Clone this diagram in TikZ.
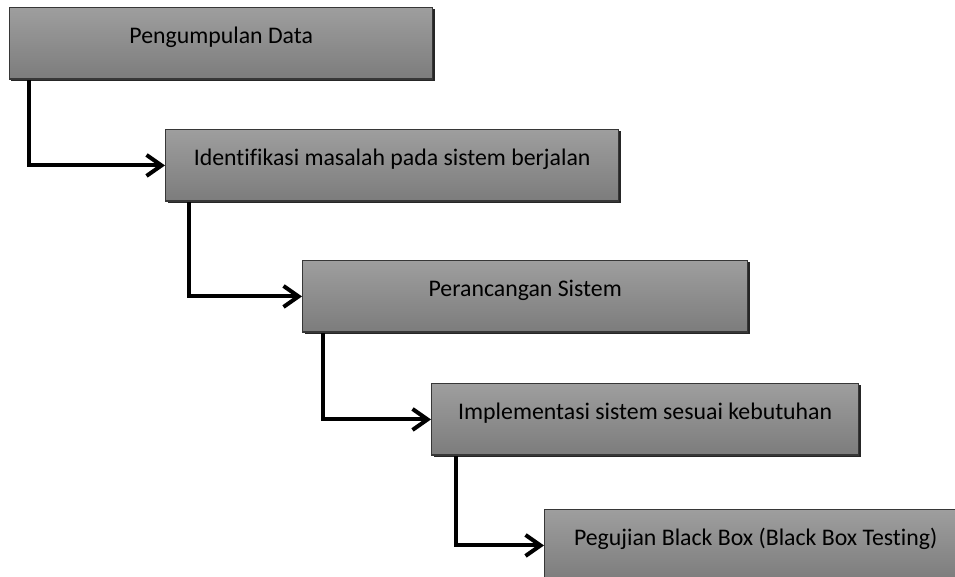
\documentclass[tikz,border=0pt]{standalone}
\usepackage{fontspec}
\setmainfont[Ligatures=NoCommon]{Carlito}
\usetikzlibrary{arrows.meta,shadows}
\definecolor{boxtop}{RGB}{158,158,158}
\definecolor{boxbot}{RGB}{124,124,124}
\definecolor{boxline}{RGB}{55,55,55}
\tikzset{
  stagebox/.style={draw=boxline, line width=0.7pt,
    top color=boxtop, bottom color=boxbot,
    anchor=north west, inner xsep=0pt, inner ysep=0pt,
    minimum height=35.75pt,
    text height=17.7pt, text depth=18.05pt,
    font=\fontsize{11.9}{14}\selectfont,
    drop shadow={shadow xshift=0.9pt, shadow yshift=-0.9pt, fill=black!85, opacity=1}},
  flow/.style={line width=2pt, line join=miter,
    -{Straight Barb[length=7.5pt,width=10.5pt,line width=2pt]}}
}
\begin{document}
\begin{tikzpicture}[x=0.5pt, y=-0.5pt]
  \path[use as bounding box] (0,0) rectangle (955,577);
  \clip (0,0) rectangle (955,577);

  % process stages
  \node[stagebox, minimum width=211.5pt] (b1) at (9,7)   {Pengumpulan Data};
  \node[stagebox, minimum width=226.5pt] (b2) at (165,129) {Identifikasi masalah pada sistem berjalan};
  \node[stagebox, minimum width=222.5pt] (b3) at (302,260) {Perancangan Sistem};
  \node[stagebox, minimum width=213.5pt] (b4) at (431,383) {Implementasi sistem sesuai kebutuhan};
  \node[stagebox, minimum width=211pt]   (b5) at (544,509) {Pegujian Black Box (Black Box Testing)};

  % step connectors
  \draw[flow] ([xshift=10pt]b1.south west)   |- (b2.west);
  \draw[flow] ([xshift=12pt]b2.south west)   |- (b3.west);
  \draw[flow] ([xshift=10.5pt]b3.south west) |- (b4.west);
  \draw[flow] ([xshift=12.5pt]b4.south west) |- (b5.west);
\end{tikzpicture}
\end{document}
